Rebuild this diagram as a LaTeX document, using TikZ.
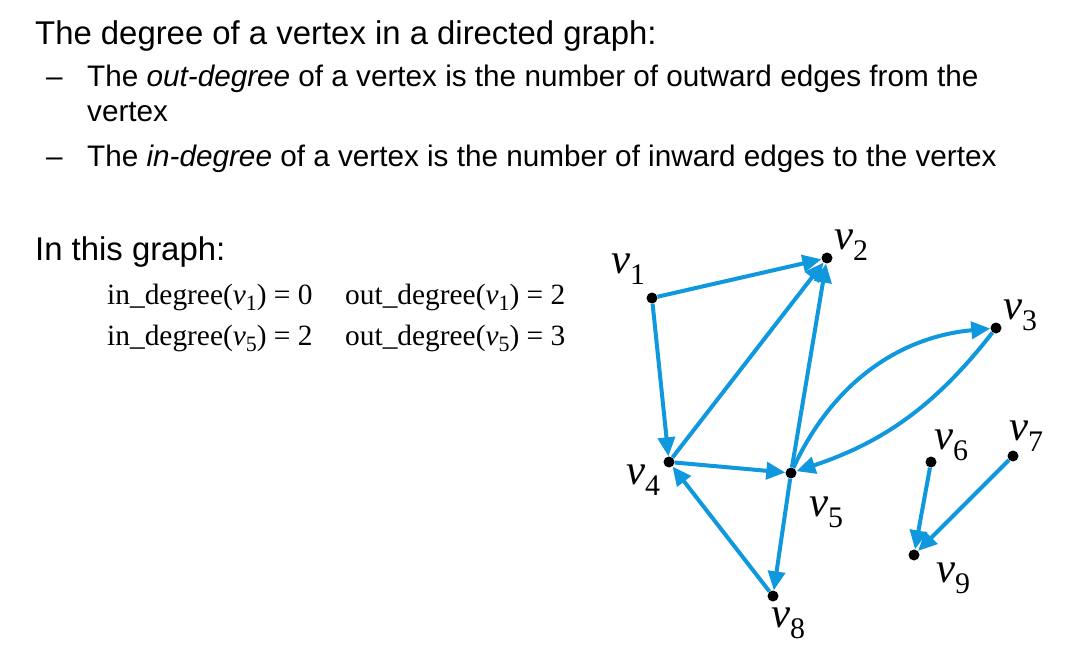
\documentclass[tikz,border=0pt]{standalone}
\usepackage{fontspec}
\setmainfont{Liberation Sans}
\newfontfamily\seriffam{Liberation Serif}
\usetikzlibrary{arrows.meta}
\definecolor{edgeblue}{RGB}{16,152,222}
\newcommand\vsub[1]{\raisebox{-6bp}{\fontsize{22}{22}\selectfont #1}}
\newcommand\vlab[1]{\textit{v}\raisebox{-0.25em}{\fontsize{30}{30}\selectfont #1}}
\begin{document}
\begin{tikzpicture}[x=1bp,y=-1bp,
  vtx/.style={circle,fill=black,inner sep=0pt,minimum size=11bp},
  edge/.style={draw=edgeblue,line width=4bp,-{Triangle[length=19bp,width=17bp]}},
  vlabel/.style={inner sep=0pt,font=\seriffam\fontsize{43}{43}\selectfont},
  headtext/.style={anchor=base west,inner sep=0pt,font=\fontsize{33}{33}\selectfont},
  bodytext/.style={anchor=base west,inner sep=0pt,font=\fontsize{29.8}{29.8}\selectfont},
  formula/.style={anchor=base west,inner sep=0pt,font=\seriffam\fontsize{29.5}{29.5}\selectfont}]
\path[use as bounding box,fill=white] (0,0) rectangle (1074,647);
% texts
\node[headtext] (t1) at (35,44.3) {The degree of a vertex in a directed graph:};
\node[bodytext] (d1) at (46,86.7) {--};
\node[bodytext] (t2) at (87,86.7) {The \textit{out-degree} of a vertex is the number of outward edges from the};
\node[bodytext] (t3) at (87,121.7) {vertex};
\node[bodytext] (d2) at (46,166.7) {--};
\node[bodytext] (t4) at (87,166.7) {The \textit{in-degree} of a vertex is the number of inward edges to the vertex};
\node[headtext] (t5) at (35,261) {In this graph:};
\node[formula] (f1) at (107,305) {in\_degree(\textit{v}\vsub{1}) = 0};
\node[formula] (f2) at (345,305) {out\_degree(\textit{v}\vsub{1}) = 2};
\node[formula] (f3) at (107,345) {in\_degree(\textit{v}\vsub{5}) = 2};
\node[formula] (f4) at (345,345) {out\_degree(\textit{v}\vsub{5}) = 3};
% vertices
\node[vtx] (v1) at (652,298) {};
\node[vtx] (v2) at (827,258) {};
\node[vtx] (v3) at (996,328) {};
\node[vtx] (v4) at (669,462) {};
\node[vtx] (v5) at (791,473) {};
\node[vtx] (v6) at (931,462) {};
\node[vtx] (v7) at (1013,456) {};
\node[vtx] (v8) at (773,596) {};
\node[vtx] (v9) at (914,555) {};
% labels
\node[vlabel] (l1) at (628,269) {\vlab{1}};
\node[vlabel] (l2) at (851,245) {\vlab{2}};
\node[vlabel] (l3) at (1020,315) {\vlab{3}};
\node[vlabel] (l4) at (643,480) {\vlab{4}};
\node[vlabel] (l5) at (826,512) {\vlab{5}};
\node[vlabel] (l6) at (951,445) {\vlab{6}};
\node[vlabel] (l7) at (1026,436) {\vlab{7}};
\node[vlabel] (l8) at (788,623) {\vlab{8}};
\node[vlabel] (l9) at (953,578) {\vlab{9}};
% edges
\draw[edge] (v1) -- (v2);
\draw[edge] (v1) -- (v4);
\draw[edge] (v4) -- (v2);
\draw[edge] (v5) -- (v2);
\draw[edge] (v4) -- (v5);
\draw[edge] (v5) .. controls (832,384) and (898,337) .. (v3);
\draw[edge] (v3) .. controls (936,405) and (884,442) .. (v5);
\draw[edge] (v8) -- (v4);
\draw[edge] (v5) -- (v8);
\draw[edge] (v6) -- (v9);
\draw[edge] (v7) -- (v9);
\end{tikzpicture}
\end{document}
